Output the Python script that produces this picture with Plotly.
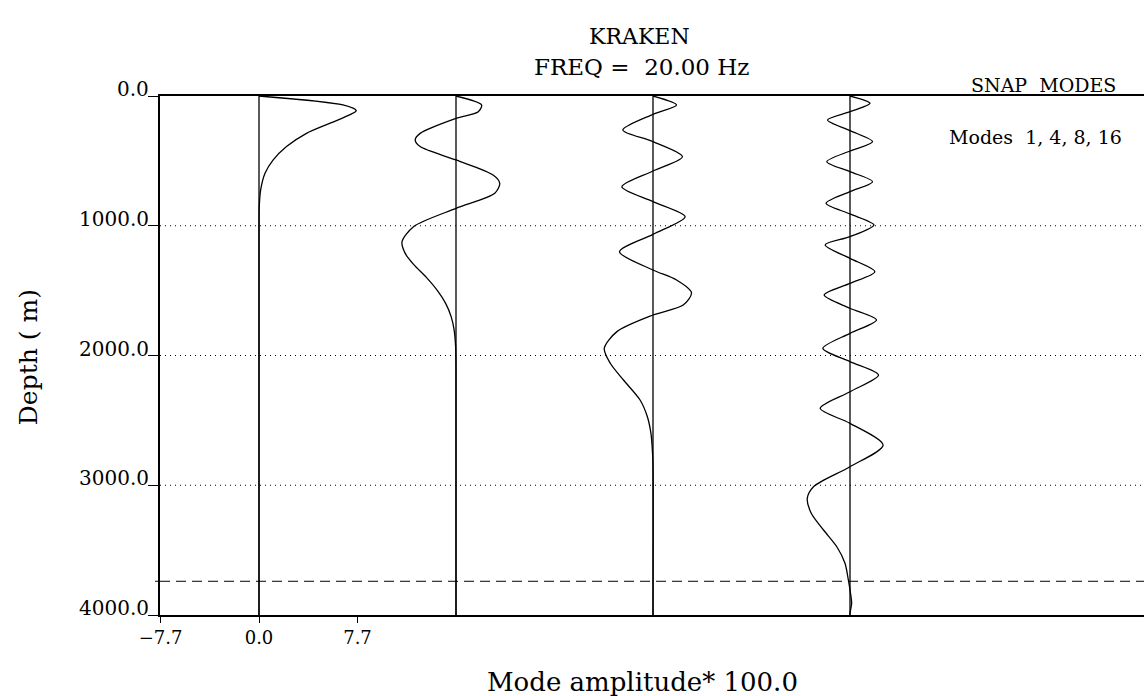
import plotly.graph_objects as go

# ---------------- data ----------------
mode_numbers = [1, 4, 8, 16]
amp_tick = 7.7  # amplitude scale tick (Mode amplitude * 100)

mode1_depth = [0, 69, 113, 146, 211, 288, 390, 493, 596, 724, 853, 1000, 4000]
mode1_amp = [0, 6.56, 7.6, 7.08, 5.52, 3.71, 2.15, 1.11, 0.47, 0.13, 0.02, 0, 0]

mode4_depth = [0, 69, 121, 172, 288, 339, 390, 493, 609, 673, 750, 866, 1007, 1123,
               1213, 1300, 1400, 1500, 1600, 1700, 1800, 1932, 2112, 4000]
mode4_amp = [0, 2.0, 1.74, 0, -2.8, -3.19, -2.8, 0, 2.9, 3.42, 3.03, 0, -3.32, -4.22,
             -3.97, -3.3, -2.3, -1.45, -0.8, -0.38, -0.15, -0.03, 0, 0]

mode8_depth = [0, 69, 141, 262, 352, 468, 578, 699, 814, 930, 1066, 1200, 1341, 1418,
               1516, 1611, 1688, 1816, 1945, 2060, 2189, 2343, 2472, 2600, 2728, 2850, 4000]
mode8_amp = [0, 1.84, 0, -2.36, 0, 2.3, 0, -2.43, 0, 2.51, 0, -2.62, 0, 1.84,
             3.01, 2.36, 0, -2.82, -3.81, -3.34, -2.31, -1.01, -0.44, -0.16, -0.05, 0, 0]

mode16_depth = [0, 56, 121, 185, 267, 352, 424, 506, 583, 660, 737, 827, 909, 994,
                1084, 1148, 1251, 1354, 1444, 1534, 1636, 1726, 1829, 1945, 2047, 2150,
                2279, 2407, 2523, 2690, 2857, 3011, 3101, 3216, 3345, 3474, 3601, 3730,
                3807, 3910, 3985, 4000]
mode16_amp = [0, 1.56, 0, -1.76, 0, 1.76, 0, -1.81, 0, 1.76, 0, -1.87, 0, 1.87,
              0, -1.94, 0, 1.94, 0, -2.02, 0, 2.07, 0, -2.12, 0, 2.23,
              0, -2.33, 0, 2.59, 0, -2.85, -3.34, -3.03, -2.07, -1.03, -0.39, -0.13,
              0, 0.13, 0, 0]

depth_ticks = [0, 1000, 2000, 3000, 4000]
depth_tick_labels = ["0.0", "1000.0", "2000.0", "3000.0", "4000.0"]
grid_depths = [1000, 2000, 3000]
bottom_depth = 3740
amp_ticks = [-7.7, 0.0, 7.7]
amp_tick_labels = ["\u22127.7", "0.0", "7.7"]
max_depth = 4000

modes = [(mode1_depth, mode1_amp), (mode4_depth, mode4_amp),
         (mode8_depth, mode8_amp), (mode16_depth, mode16_amp)]

# ---------------- figure ----------------
FONT = "DejaVu Serif"
fig = go.Figure()

for i, (dep, amp) in enumerate(modes):
    off = i * 2 * amp_tick
    # zero reference line of each mode
    fig.add_trace(go.Scatter(x=[off, off], y=[0, max_depth], mode="lines",
                             line=dict(color="black", width=1.3),
                             hoverinfo="skip", showlegend=False))
    fig.add_trace(go.Scatter(x=[off + a for a in amp], y=dep, mode="lines",
                             line=dict(color="black", width=1.3, shape="spline", smoothing=0.8),
                             name=f"Mode {mode_numbers[i]}", showlegend=False))

# bottom interface (dashed)
fig.add_shape(type="line", xref="paper", x0=0, x1=1, yref="y", y0=bottom_depth, y1=bottom_depth,
              line=dict(color="black", width=1, dash="10px,6px"))
fig.add_shape(type="line", xref="paper", x0=-0.005, x1=0, yref="y", y0=bottom_depth, y1=bottom_depth,
              line=dict(color="black", width=1))

annotations = []
for v, t in zip(depth_ticks, depth_tick_labels):
    annotations.append(dict(x=0, xref="paper", y=v, yref="y", text=t, showarrow=False,
                            xanchor="right", yanchor="middle", xshift=-9, yshift=7,
                            font=dict(family=FONT, size=20, color="black")))

annotations += [
    dict(x=0.4878, xref="paper", y=1.114, yref="paper", text="KRAKEN", showarrow=False,
         xanchor="center", yanchor="middle", font=dict(family=FONT, size=22, color="black")),
    dict(x=0.4898, xref="paper", y=1.056, yref="paper", text="FREQ =  20.00 Hz", showarrow=False,
         xanchor="center", yanchor="middle", font=dict(family=FONT, size=23, color="black")),
    dict(x=0.9736, xref="paper", y=1.021, yref="paper", text="SNAP  MODES", showarrow=False,
         xanchor="right", yanchor="middle", font=dict(family=FONT, size=19, color="black")),
    dict(x=0.9797, xref="paper", y=0.921, yref="paper", text="Modes  1, 4, 8, 16", showarrow=False,
         xanchor="right", yanchor="middle", font=dict(family=FONT, size=19, color="black")),
    dict(x=0.49, xref="paper", y=-0.129, yref="paper", text="Mode amplitude* 100.0", showarrow=False,
         xanchor="center", yanchor="middle", font=dict(family=FONT, size=26, color="black")),
    dict(x=-0.134, xref="paper", y=0.497, yref="paper", text="Depth ( m)", showarrow=False,
         textangle=-90, xanchor="center", yanchor="middle",
         font=dict(family=FONT, size=25, color="black")),
]

px_per_unit = 197 / (2 * amp_tick)
x_left = -amp_tick - 0.5 / px_per_unit
x_right = x_left + 984 / px_per_unit

fig.update_layout(
    width=1144, height=696,
    margin=dict(l=160, r=0, t=96, b=81),
    paper_bgcolor="white", plot_bgcolor="white",
    font=dict(family=FONT, color="black"),
    annotations=annotations,
    xaxis=dict(range=[x_left, x_right], showgrid=False, zeroline=False,
               showline=True, linecolor="black", linewidth=1.5, mirror=True,
               tickmode="array", tickvals=amp_ticks, ticktext=amp_tick_labels,
               ticks="outside", ticklen=6, tickcolor="black", tickwidth=1,
               tickfont=dict(family=FONT, size=18, color="black"),
               ticklabelstandoff=0),
    yaxis=dict(range=[max_depth, 0], showgrid=False, zeroline=False,
               showline=True, linecolor="black", linewidth=1.5,
               tickmode="array", tickvals=depth_ticks, showticklabels=False,
               ticks="outside", ticklen=10, tickcolor="black", tickwidth=1),
)

for d in grid_depths:
    fig.add_shape(type="line", xref="paper", x0=0, x1=1, yref="y", y0=d, y1=d,
                  line=dict(color="black", width=1, dash="1px,4px"), layer="below")

fig.write_html("out.html")
